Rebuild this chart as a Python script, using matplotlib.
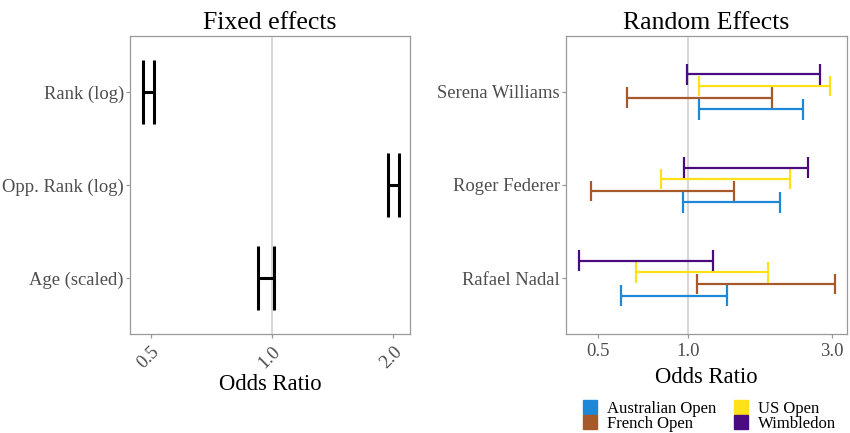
import numpy as np
import matplotlib.pyplot as plt
from matplotlib.lines import Line2D

plt.rcParams['font.family'] = ['Liberation Serif', 'DejaVu Serif']

# Efeitos fixos (odds ratio, intervalo)
fixed_terms = ['Rank (log)', 'Opp. Rank (log)', 'Age (scaled)']
fixed_lo = [0.477, 1.94, 0.921]
fixed_hi = [0.509, 2.07, 1.013]

# Efeitos aleatorios por jogador e torneio
players = ['Serena Williams', 'Roger Federer', 'Rafael Nadal']
tournaments = ['Australian Open', 'French Open', 'US Open', 'Wimbledon']
colors = ['#1e88d8', '#a65a2c', '#ffe119', '#4a0a80']
# linhas: jogadores (Serena, Roger, Rafael); colunas: torneios
rand_lo = [[1.083, 0.626, 1.083, 0.988],
           [0.958, 0.474, 0.811, 0.970],
           [0.599, 1.069, 0.669, 0.433]]
rand_hi = [[2.40, 1.89, 2.96, 2.74],
           [2.02, 1.42, 2.18, 2.50],
           [1.345, 3.07, 1.84, 1.21]]

fig = plt.figure(figsize=(8.5, 4.33), dpi=100)
ax1 = fig.add_axes([0.153, 0.2286, 0.329, 0.6884])
ax2 = fig.add_axes([0.666, 0.2286, 0.3305, 0.6884])

gray = '#999999'
tick_col = '#4d4d4d'

def estilo(ax):
    for s in ax.spines.values():
        s.set_color(gray)
        s.set_linewidth(0.9)
    ax.tick_params(colors=gray, labelcolor=tick_col, length=3, width=0.9, labelsize=13.4)
    ax.tick_params(axis='y', pad=1.5)
    ax.set_xscale('log')
    ax.minorticks_off()
    ax.axvline(1.0, color='#d3d3d3', lw=1.3, zorder=0)
    ax.set_ylim(0.4, 3.6)

# Painel esquerdo
estilo(ax1)
y1 = np.array([3, 2, 1])
ax1.hlines(y1, fixed_lo, fixed_hi, color='black', lw=2.2)
ax1.vlines(fixed_lo, y1 - 0.345, y1 + 0.345, color='black', lw=2.2)
ax1.vlines(fixed_hi, y1 - 0.345, y1 + 0.345, color='black', lw=2.2)
ax1.set_xlim(0.443, 2.2)
ax1.set_xticks([0.5, 1.0, 2.0])
ax1.set_xticklabels(['0.5', '1.0', '2.0'], rotation=45, ha='right', rotation_mode='anchor')
ax1.set_yticks(y1)
ax1.set_yticklabels(fixed_terms)
ax1.set_xlabel('Odds Ratio', fontsize=16.3, labelpad=2)
ax1.set_title('Fixed effects', fontsize=18.5, pad=5)

# Painel direito
estilo(ax2)
y2 = np.array([3, 2, 1])
offs = [-0.1875, -0.0625, 0.0625, 0.1875]
for j, t in enumerate(tournaments):
    lo = [rand_lo[i][j] for i in range(3)]
    hi = [rand_hi[i][j] for i in range(3)]
    yy = y2 + offs[j]
    ax2.hlines(yy, lo, hi, color=colors[j], lw=1.6)
    ax2.vlines(lo, yy - 0.11, yy + 0.11, color=colors[j], lw=1.6)
    ax2.vlines(hi, yy - 0.11, yy + 0.11, color=colors[j], lw=1.6)
ax2.set_xlim(0.392, 3.37)
ax2.set_xticks([0.5, 1.0, 3.0])
ax2.set_xticklabels(['0.5', '1.0', '3.0'])
ax2.set_yticks(y2)
ax2.set_yticklabels(players)
ax2.set_xlabel('Odds Ratio', fontsize=16.3, labelpad=5)
ax2.set_title('Random Effects', fontsize=18.5, pad=5)

handles = [Line2D([], [], marker='s', ls='', color=c, markersize=10) for c in colors]
fig.legend(handles, tournaments, ncol=2, loc='center', bbox_to_anchor=(0.835, 0.038),
           frameon=False, fontsize=12, handlelength=0.8, handletextpad=0.6,
           columnspacing=1.1, labelspacing=-0.05, borderpad=0.2)

fig.savefig('out.png', dpi=100)
